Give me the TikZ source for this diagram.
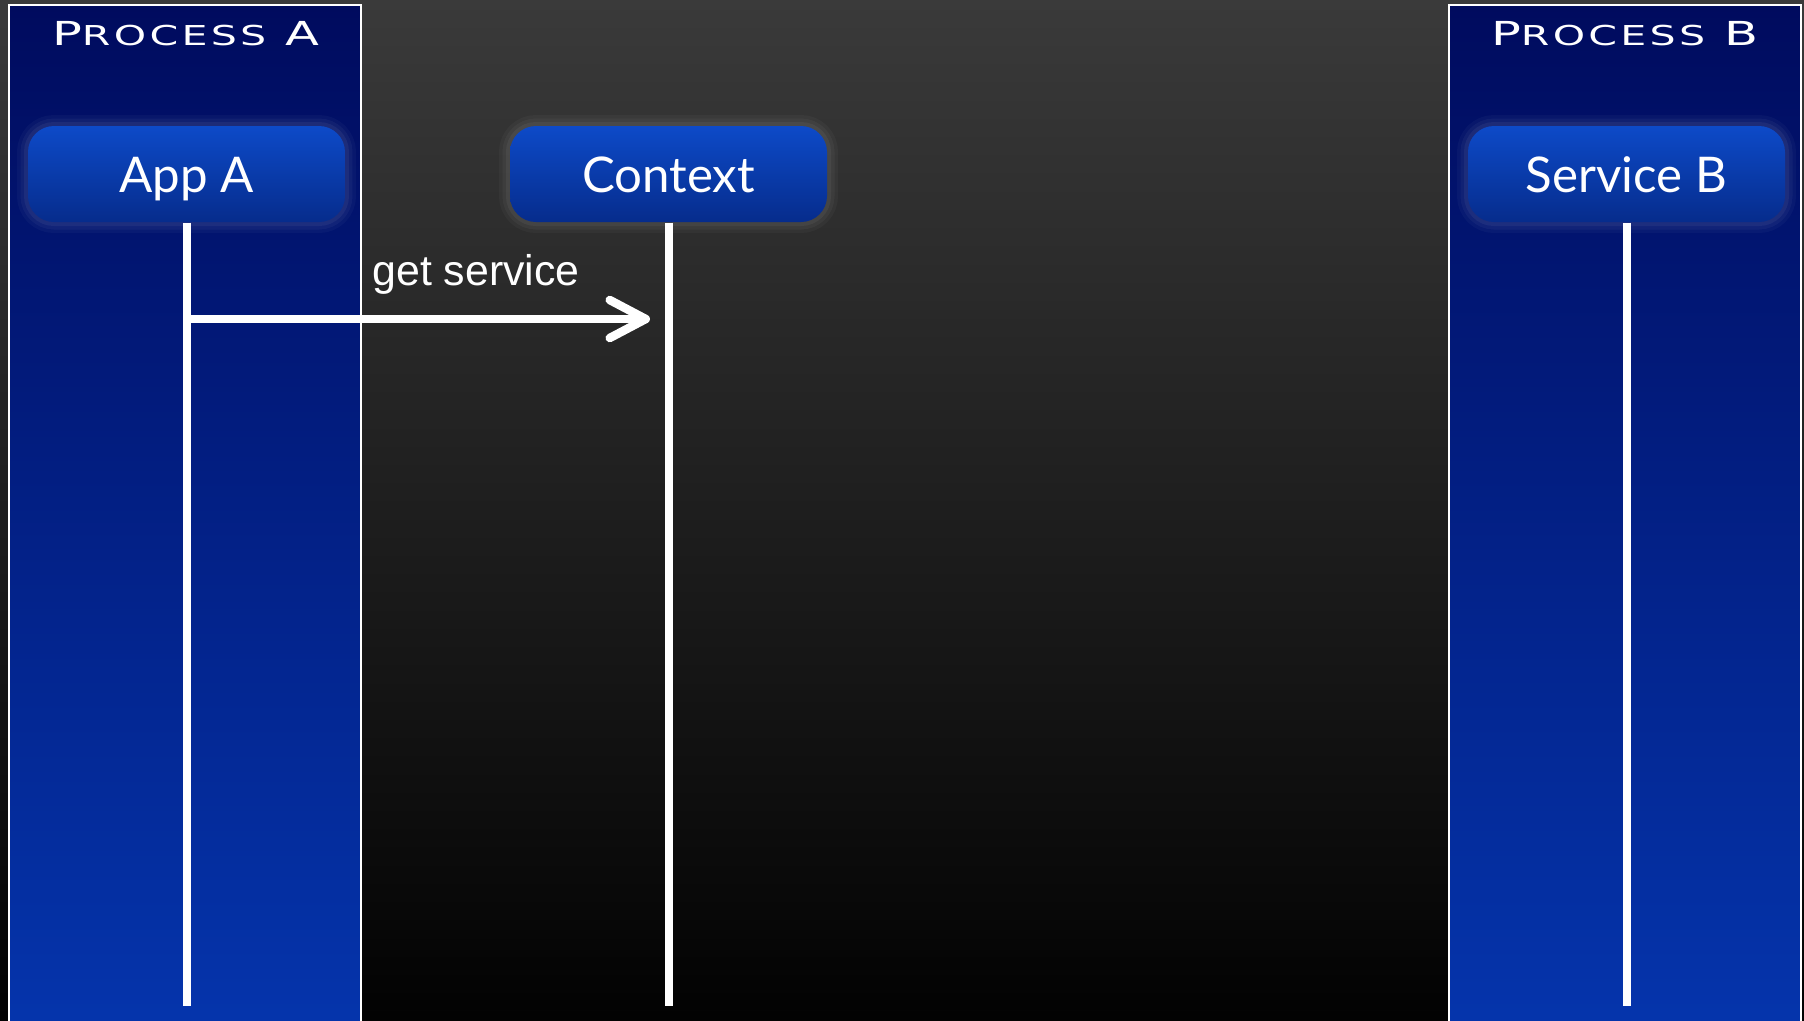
\documentclass[tikz,border=0pt]{standalone}
\usepackage{fontspec}
\setmainfont{Liberation Sans}
\newfontfamily\boxfont{Lato}
\newfontfamily\widefont[FakeStretch=1.5,LetterSpace=12]{DejaVu Sans}
\usetikzlibrary{arrows.meta}
\definecolor{bgtop}{HTML}{3A3A3A}
\definecolor{bgbot}{HTML}{020202}
\definecolor{lanetop}{HTML}{000B5E}
\definecolor{lanebot}{HTML}{0535AD}
\definecolor{boxtop}{HTML}{0D4AC8}
\definecolor{boxbot}{HTML}{062C8C}
\tikzset{
  lane/.style={draw=white,line width=0.25mm,top color=lanetop,bottom color=lanebot},
  lanetitle/.style={text=white,font=\widefont\fontsize{9.4}{10}\selectfont,anchor=base},
  actor/.style={rounded corners=2.6mm,minimum width=31.7mm,minimum height=9.6mm,
    text height=3.6mm,text depth=0mm,
    top color=boxtop,bottom color=boxbot,text=white,
    font=\boxfont\fontsize{14}{16}\selectfont,
    preaction={draw=white,draw opacity=0.03,line width=2.2mm},
    preaction={draw=white,draw opacity=0.04,line width=1.5mm},
    preaction={draw=white,draw opacity=0.05,line width=0.8mm}},
  lifeline/.style={white,line width=0.8mm},
  msg/.style={white,line width=0.85mm,-{Straight Barb[length=3.6mm,width=3.8mm,round]}}
}
\begin{document}
\begin{tikzpicture}[x=0.1mm,y=-0.1mm]
	\useasboundingbox (0,0) rectangle (1804,1020);
	% background
	\shade[top color=bgtop,bottom color=bgbot] (0,0) rectangle (1804,1020);
	%% the two processes
	\shade[lane] (9,5) rectangle (361,1040);
	\shade[lane] (1449,5) rectangle (1801,1040);
	\node[lanetitle] (procA) at (186,45) {P{\fontsize{7.8}{9}\selectfont ROCESS} A};
	\node[lanetitle] (procB) at (1625,45) {P{\fontsize{7.8}{9}\selectfont ROCESS} B};
	%% the actors
	\node[actor] (appA) at (186.5,174) {App A};
	\node[actor] (ctx) at (668.5,174) {Context};
	\node[actor] (servB) at (1626.5,174) {Service B};
	% lifelines
	\coordinate (appEnd) at (186.5,1006);
	\coordinate (ctxEnd) at (668.5,1006);
	\coordinate (servEnd) at (1626.5,1006);
	\draw[lifeline] (appA.south) -- (appEnd);
	\draw[lifeline] (ctx.south) -- (ctxEnd);
	\draw[lifeline] (servB.south) -- (servEnd);
	% the call
	\coordinate (getTo) at (650,319);
	\draw[msg] (appA.south |- 0,319) -- (getTo);
	\node[white,anchor=base west,font=\fontsize{12.2}{14}\selectfont] (getLbl) at (360,285) {get service};
\end{tikzpicture}
\end{document}
